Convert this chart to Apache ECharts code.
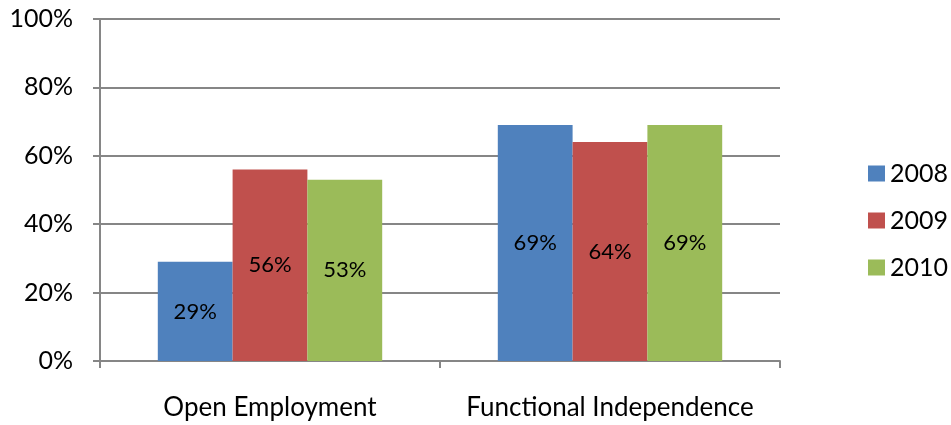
<!DOCTYPE html>
<html>
<head>
<meta charset="utf-8">
<script src="https://cdn.jsdelivr.net/npm/echarts@6/dist/echarts.min.js"></script>
<style>
  html, body { margin: 0; padding: 0; background: #fff; }
  #chart { width: 951px; height: 425px; }
</style>
</head>
<body>
<div id="chart"></div>
<script>
  var categories = ['Open Employment', 'Functional Independence'];
  var years = ['2008', '2009', '2010'];
  var values2008 = [29, 69];
  var values2009 = [56, 64];
  var values2010 = [53, 69];
  var colors = ['#4F81BD', '#C0504D', '#9BBB59'];

  var font = 'Lato, "Open Sans", sans-serif';
  var myChart = echarts.init(document.getElementById('chart'));

  function makeSeries(name, data, color) {
    return {
      name: name,
      type: 'bar',
      data: data,
      barGap: '0%',
      barCategoryGap: '34%',
      itemStyle: { color: color },
      label: {
        show: true,
        position: 'inside',
        formatter: '{c}%',
        color: '#000',
        fontSize: 22,
        fontFamily: font
      }
    };
  }

  myChart.setOption({
    animation: false,
    textStyle: { fontFamily: font },
    grid: { left: 100, right: 171, top: 19, bottom: 64 },
    legend: {
      orient: 'vertical',
      left: 863,
      top: 156,
      itemWidth: 17,
      itemHeight: 16,
      itemGap: 22,
      icon: 'rect',
      textStyle: { fontSize: 25, color: '#000', fontFamily: font },
      data: years
    },
    xAxis: {
      type: 'category',
      data: categories,
      axisLine: { lineStyle: { color: '#868686', width: 2 } },
      axisTick: { show: true, length: 7, lineStyle: { color: '#868686', width: 2 } },
      axisLabel: { fontSize: 26, color: '#000', margin: 34, interval: 0, fontFamily: font }
    },
    yAxis: {
      type: 'value',
      min: 0,
      max: 100,
      interval: 20,
      axisLine: { show: true, lineStyle: { color: '#868686', width: 2 } },
      axisTick: { show: true, length: 7, lineStyle: { color: '#868686', width: 2 } },
      splitLine: { lineStyle: { color: '#868686', width: 2 } },
      axisLabel: { fontSize: 25, color: '#000', margin: 27, formatter: '{value}%', fontFamily: font }
    },
    series: [
      makeSeries(years[0], values2008, colors[0]),
      makeSeries(years[1], values2009, colors[1]),
      makeSeries(years[2], values2010, colors[2])
    ]
  });
</script>
</body>
</html>
